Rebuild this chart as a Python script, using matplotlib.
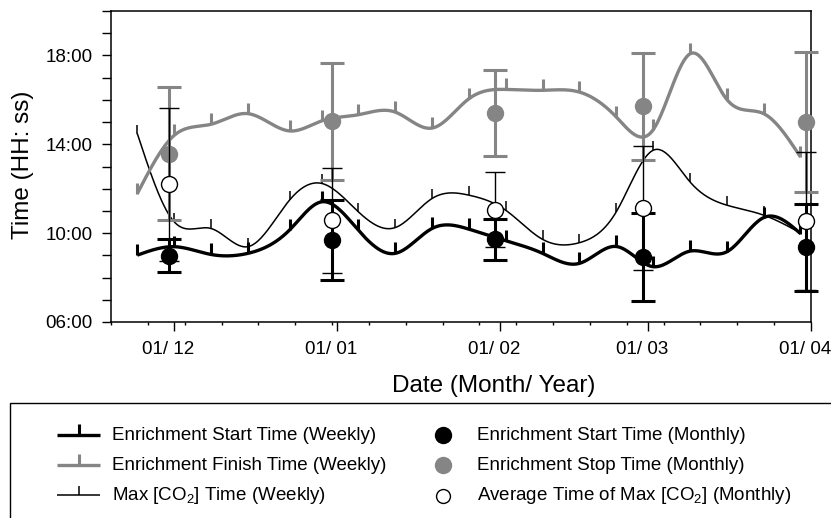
import numpy as np
import matplotlib
matplotlib.use('Agg')
import matplotlib.pyplot as plt
import matplotlib.dates as mdates
import matplotlib.transforms as mtransforms
from matplotlib.patches import Rectangle
from matplotlib.ticker import FixedLocator, NullFormatter

plt.rcParams['font.family'] = ['Liberation Sans', 'DejaVu Sans']
plt.rcParams['mathtext.fontset'] = 'custom'
plt.rcParams['mathtext.rm'] = 'Liberation Sans'
plt.rcParams['mathtext.it'] = 'Liberation Sans:italic'
plt.rcParams['mathtext.bf'] = 'Liberation Sans:bold'

# ---------------- data (time of day in hours) ----------------
weekly_dates = ['2013-11-24', '2013-12-01', '2013-12-08', '2013-12-15', '2013-12-23',
                '2013-12-29', '2014-01-05', '2014-01-12', '2014-01-19', '2014-01-26',
                '2014-02-02', '2014-02-09', '2014-02-16', '2014-02-23', '2014-03-02',
                '2014-03-09', '2014-03-16', '2014-03-23', '2014-03-30']
start_weekly = [9.01, 9.39, 9.04, 9.09, 10.16, 11.41, 10.13, 9.09, 10.21, 10.18,
                9.66, 9.09, 8.64, 9.40, 8.49, 9.19, 9.16, 10.70, 9.98]
finish_weekly = [11.78, 14.40, 14.90, 15.38, 14.60, 15.05, 15.33, 15.45, 14.73, 16.05,
                 16.47, 16.43, 16.35, 15.23, 14.65, 18.07, 16.02, 15.38, 13.43]
maxco2_weekly = [14.48, 10.51, 10.21, 9.39, 11.51, 12.24, 10.96, 10.25, 11.56, 11.71,
                 11.03, 9.72, 9.57, 10.96, 13.73, 12.31, 11.26, 10.81, 10.01]

monthly_dates = ['2013-11-30', '2013-12-31', '2014-01-31', '2014-02-28', '2014-03-31']
start_monthly = [8.99, 9.69, 9.73, 8.93, 9.36]
start_monthly_err = [0.75, 1.78, 0.92, 1.97, 1.95]
stop_monthly = [13.58, 15.04, 15.41, 15.71, 15.02]
stop_monthly_err = [3.00, 2.64, 1.93, 2.42, 3.15]
maxco2_monthly = [12.20, 10.57, 11.06, 11.14, 10.54]
maxco2_monthly_err = [3.45, 2.37, 1.70, 2.78, 3.12]

month_ticks = ['2013-12-01', '2014-01-01', '2014-02-01', '2014-03-01', '2014-04-01']
month_labels = ['01/ 12', '01/ 01', '01/ 02', '01/ 03', '01/ 04']
ytick_values = [6, 10, 14, 18]
ytick_labels = ['06:00', '10:00', '14:00', '18:00']

legend_left = ['Enrichment Start Time (Weekly)', 'Enrichment Finish Time (Weekly)',
               r'Max [CO$_\mathregular{2}$] Time (Weekly)']
legend_right = ['Enrichment Start Time (Monthly)', 'Enrichment Stop Time (Monthly)',
                r'Average Time of Max [CO$_\mathregular{2}$] (Monthly)']

GRAY = '#858585'


def dnum(lst):
    return mdates.date2num(np.array(lst, dtype='datetime64[D]'))


def natural_spline(x, y, n=600):
    x = np.asarray(x, float)
    y = np.asarray(y, float)
    m = len(x)
    h = np.diff(x)
    A = np.zeros((m, m))
    b = np.zeros(m)
    A[0, 0] = 1
    A[-1, -1] = 1
    for i in range(1, m - 1):
        A[i, i - 1] = h[i - 1]
        A[i, i] = 2 * (h[i - 1] + h[i])
        A[i, i + 1] = h[i]
        b[i] = 3 * ((y[i + 1] - y[i]) / h[i] - (y[i] - y[i - 1]) / h[i - 1])
    c = np.linalg.solve(A, b)
    bc = (y[1:] - y[:-1]) / h - h * (2 * c[:-1] + c[1:]) / 3
    dc = (c[1:] - c[:-1]) / (3 * h)
    xs = np.linspace(x[0], x[-1], n)
    idx = np.clip(np.searchsorted(x, xs) - 1, 0, m - 2)
    dx = xs - x[idx]
    ys = y[idx] + bc[idx] * dx + c[idx] * dx ** 2 + dc[idx] * dx ** 3
    return xs, ys


fig = plt.figure(figsize=(8.31, 5.18), dpi=100)
W, H = 831.0, 518.0
ax = fig.add_axes([111 / W, 1 - 322 / H, 700 / W, 311 / H])

xw = dnum(weekly_dates)
xm = dnum(monthly_dates)

styles = [
    (maxco2_weekly, 'black', 1.1, 6.5, 1.1),
    (start_weekly, 'black', 2.4, 8.0, 2.2),
    (finish_weekly, GRAY, 2.4, 8.0, 2.2),
]
for ys, col, lw, ms, mew in styles:
    sx, sy = natural_spline(xw, ys)
    ax.plot(sx, sy, color=col, lw=lw, zorder=2, solid_capstyle='butt')
    ax.plot(xw, ys, linestyle='none', marker=2, ms=ms, mew=mew, color=col, zorder=2)

containers = []
containers.append(ax.errorbar(xm, stop_monthly, yerr=stop_monthly_err, fmt='o', color=GRAY, ms=11.5,
                              elinewidth=2.2, capsize=8.6, capthick=2.2, zorder=3))
containers.append(ax.errorbar(xm, start_monthly, yerr=start_monthly_err, fmt='o', color='black', ms=11.5,
                              elinewidth=2.2, capsize=8.6, capthick=2.2, zorder=4))
containers.append(ax.errorbar(xm, maxco2_monthly, yerr=maxco2_monthly_err, fmt='o', color='black',
                              mfc='white', mec='black', mew=1.0, ms=11.5, elinewidth=1.0,
                              capsize=7.0, capthick=1.0, zorder=5))
for cont in containers:
    for art in cont.get_children():
        art.set_clip_on(False)

# axes limits / ticks
ax.set_xlim(mdates.date2num(np.datetime64('2013-11-19')), mdates.date2num(np.datetime64('2014-04-01')))
ax.set_ylim(6, 20)
ax.xaxis.set_major_locator(FixedLocator(dnum(month_ticks)))
ax.set_xticklabels(month_labels)
minor = mdates.date2num(np.arange(np.datetime64('2013-11-19'), np.datetime64('2014-04-02'), 7))
ax.xaxis.set_minor_locator(FixedLocator(minor))
ax.xaxis.set_minor_formatter(NullFormatter())
ax.set_yticks(ytick_values)
ax.set_yticklabels(ytick_labels)
ax.yaxis.set_minor_locator(FixedLocator(np.arange(6, 20.5, 1)))
ax.tick_params(axis='x', which='major', direction='out', length=6.5, width=1.0, labelsize=13.5, pad=7)
ax.tick_params(axis='x', which='minor', direction='out', length=2.5, width=1.0)
ax.tick_params(axis='y', which='both', direction='out', length=6.5, width=1.0, labelsize=13.5, pad=6.5)
for sp in ax.spines.values():
    sp.set_linewidth(1.1)
offset = mtransforms.ScaledTranslation(-6 / 100, 0, fig.dpi_scale_trans)
for lab in ax.get_xticklabels():
    lab.set_transform(lab.get_transform() + offset)

fig.text(29.5 / W, 1 - 165 / H, 'Time (HH: ss)', rotation=90, rotation_mode='anchor',
         ha='center', va='baseline', fontsize=17.5)
fig.text(494 / W, 1 - 392 / H, 'Date (Month/ Year)', ha='center', va='baseline', fontsize=17.5)

# ---------------- legend (drawn in pixel overlay) ----------------
ov = fig.add_axes([0, 0, 1, 1])
ov.set_xlim(0, W)
ov.set_ylim(H, 0)
ov.axis('off')
ov.patch.set_alpha(0)
ov.add_patch(Rectangle((10, 403), 900, 200, fill=False, ec='black', lw=1.0))

handle_y = [434.5, 465, 494.5]
base_y = [440, 470.5, 500]
for i, (ys, col, lw, ms, mew) in enumerate([styles[1], styles[2], styles[0]]):
    ov.plot([57, 100], [handle_y[i]] * 2, color=col, lw=lw, solid_capstyle='butt')
    ov.plot([78.5], [handle_y[i]], marker=2, ms=ms, mew=mew, color=col)
    ov.text(112, base_y[i], legend_left[i], fontsize=13.5, va='baseline', ha='left')

ov.plot([443], [handle_y[0]], 'o', color='black', ms=11.5)
ov.plot([443], [handle_y[1]], 'o', color=GRAY, ms=11.5)
ov.plot([443], [handle_y[2] + 1], 'o', mfc='white', mec='black', mew=1.0, ms=10)
for i in range(3):
    ov.text(477, base_y[i], legend_right[i], fontsize=13.5, va='baseline', ha='left')

fig.savefig('out.png', dpi=100)
